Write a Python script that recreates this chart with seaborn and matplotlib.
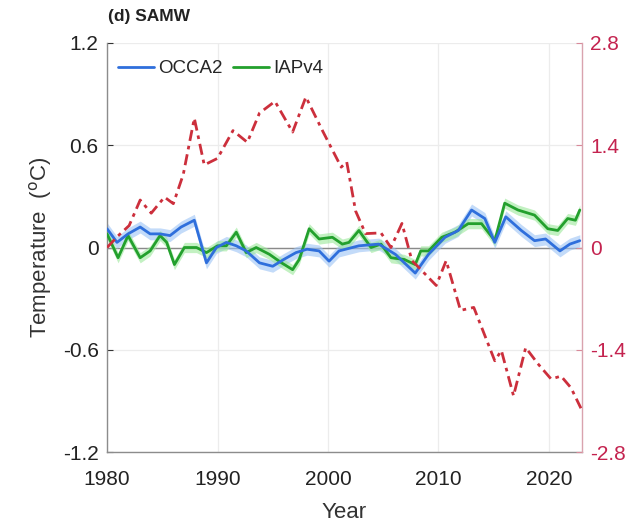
import numpy as np
import pandas as pd
import matplotlib
matplotlib.use("Agg")
import matplotlib.pyplot as plt
import seaborn as sns

# ---- data ----
occa_year = [1980.0, 1980.9, 1981.9, 1983.0, 1983.9, 1984.8, 1985.7, 1986.7, 1987.9, 1989.0,
             1989.9, 1990.8, 1991.7, 1992.6, 1993.8, 1995.0, 1996.0, 1997.1, 1998.1, 1999.2,
             2000.1, 2001.0, 2002.8, 2004.6, 2006.1, 2007.9, 2009.1, 2010.6, 2011.8, 2013.0,
             2014.2, 2015.1, 2016.1, 2017.5, 2018.7, 2019.7, 2021.0, 2021.9, 2022.8]
occa_temp = [0.11, 0.03, 0.08, 0.12, 0.08, 0.08, 0.07, 0.12, 0.16, -0.09,
             0.00, 0.03, 0.01, -0.02, -0.09, -0.11, -0.07, -0.03, -0.01, -0.02,
             -0.08, -0.02, 0.01, 0.02, -0.04, -0.15, -0.04, 0.06, 0.10, 0.22,
             0.17, 0.03, 0.18, 0.10, 0.04, 0.05, -0.02, 0.02, 0.04]
occa_err = 0.035

iap_year = [1980.0, 1981.0, 1981.9, 1983.0, 1983.9, 1984.8, 1985.4, 1986.1, 1987.0, 1988.1,
            1989.0, 1990.0, 1990.8, 1991.7, 1992.6, 1993.5, 1994.7, 1995.8, 1996.8, 1997.4,
            1998.3, 1999.2, 2000.4, 2001.3, 2001.9, 2002.8, 2003.9, 2004.8, 2005.7, 2006.9,
            2007.9, 2008.4, 2009.1, 2010.3, 2011.5, 2012.7, 2013.9, 2015.1, 2016.0, 2017.2,
            2018.7, 2019.9, 2020.8, 2021.7, 2022.4, 2022.8]
iap_temp = [0.08, -0.06, 0.07, -0.06, -0.02, 0.07, 0.03, -0.10, 0.00, 0.00,
            -0.03, 0.01, 0.01, 0.09, -0.03, 0.00, -0.04, -0.09, -0.13, -0.07,
            0.11, 0.05, 0.06, 0.02, 0.03, 0.10, 0.00, 0.02, -0.06, -0.07,
            -0.10, -0.02, -0.02, 0.06, 0.09, 0.14, 0.14, 0.04, 0.26, 0.22,
            0.19, 0.11, 0.10, 0.17, 0.16, 0.22]
iap_err = 0.03

red_year = [1980.0, 1981.0, 1982.0, 1983.0, 1984.0, 1985.2, 1986.0, 1986.9, 1987.9, 1988.8,
            1990.0, 1991.4, 1992.7, 1993.8, 1995.2, 1996.8, 1998.0, 1999.5, 2001.2, 2001.7,
            2002.5, 2003.4, 2004.8, 2005.7, 2006.7, 2007.6, 2008.2, 2009.8, 2010.7, 2012.0,
            2013.2, 2015.1, 2015.7, 2016.8, 2017.9, 2019.0, 2020.2, 2021.1, 2022.0, 2022.9]
red_val = [0.00, 0.16, 0.30, 0.65, 0.47, 0.69, 0.60, 1.00, 1.77, 1.13,
           1.22, 1.60, 1.44, 1.84, 2.00, 1.58, 2.06, 1.60, 1.10, 1.17,
           0.50, 0.19, 0.20, 0.00, 0.33, -0.18, -0.27, -0.52, -0.18, -0.86,
           -0.82, -1.55, -1.41, -2.03, -1.37, -1.59, -1.80, -1.76, -1.92, -2.20]

x_ticks = [1980, 1990, 2000, 2010, 2020]
yl_ticks = [-1.2, -0.6, 0, 0.6, 1.2]
yr_ticks = [-2.8, -1.4, 0, 1.4, 2.8]

# ---- styling ----
sns.set_style("white")
plt.rcParams['font.family'] = ['Liberation Sans', 'DejaVu Sans']

blue = "#2f6fdc"
green = "#23a02d"
red = "#cc2f3c"
tick_red = "#c4234f"
axis_gray = "#8c8c8c"

fig = plt.figure(figsize=(6.41, 5.30), dpi=100)
ax = fig.add_axes([0.167, 0.147, 0.741, 0.772])

occa_df = pd.DataFrame({"Year": occa_year, "T": occa_temp})
iap_df = pd.DataFrame({"Year": iap_year, "T": iap_temp})
red_df = pd.DataFrame({"Year": red_year, "V": red_val})

ax.fill_between(occa_df["Year"], occa_df["T"] - occa_err, occa_df["T"] + occa_err,
                color="#9cc3f5", alpha=0.6, lw=0, zorder=2)
ax.fill_between(iap_df["Year"], iap_df["T"] - iap_err, iap_df["T"] + iap_err,
                color="#9be89a", alpha=0.6, lw=0, zorder=2)
ax.axhline(0, color="#8a8a8a", lw=1.0, zorder=1)
sns.lineplot(data=occa_df, x="Year", y="T", ax=ax, color=blue, lw=2, label="OCCA2", zorder=4)
sns.lineplot(data=iap_df, x="Year", y="T", ax=ax, color=green, lw=2, label="IAPv4", zorder=3)

ax.set_xlim(1980, 2023)
ax.set_ylim(-1.2, 1.2)
ax.set_xticks(x_ticks)
ax.set_yticks(yl_ticks)
ax.set_yticklabels(["-1.2", "-0.6", "0", "0.6", "1.2"])
ax.grid(True, color="#ececec", lw=0.9)
ax.set_axisbelow(True)
ax.tick_params(axis="both", direction="in", length=4, labelsize=15, colors="#333333",
               labelcolor="#222222")
ax.tick_params(axis="x", pad=13)
ax.tick_params(axis="y", pad=6)
ax.set_xlabel("Year", fontsize=16, color="#333333", labelpad=9)
ax.set_ylabel("Temperature  ($^{\\rm o}$C)", fontsize=16, color="#333333", labelpad=6)
ax.spines["top"].set_visible(False)
for s in ["left", "bottom"]:
    ax.spines[s].set_color(axis_gray)
    ax.spines[s].set_linewidth(1.0)
ax.spines["right"].set_visible(False)

leg = ax.legend(loc="upper left", ncol=2, frameon=False, fontsize=13.5, handlelength=1.9,
                handletextpad=0.2, columnspacing=0.6, borderaxespad=0.2,
                bbox_to_anchor=(0.0, 0.985))

ax2 = ax.twinx()
sns.lineplot(data=red_df, x="Year", y="V", ax=ax2, color=red, lw=2, zorder=5)
ax2.lines[-1].set_dashes([4, 1.8, 1.3, 1.8])
ax2.set_ylim(-2.8, 2.8)
ax2.set_yticks(yr_ticks)
ax2.set_yticklabels(["-2.8", "-1.4", "0", "1.4", "2.8"])
ax2.set_ylabel("")
ax2.tick_params(axis="y", direction="in", length=4, labelsize=15, colors="#d88a9a",
                labelcolor=tick_red, pad=6)
for s in ["top", "left", "bottom"]:
    ax2.spines[s].set_visible(False)
ax2.spines["right"].set_color("#d9a3ae")
ax2.spines["right"].set_linewidth(1.0)
ax2.set_xlim(1980, 2023)

fig.text(0.169, 0.955, "(d) SAMW", fontsize=12.5, fontweight="bold", color="#222222",
         ha="left", va="bottom")

fig.savefig("out.png", dpi=100)
